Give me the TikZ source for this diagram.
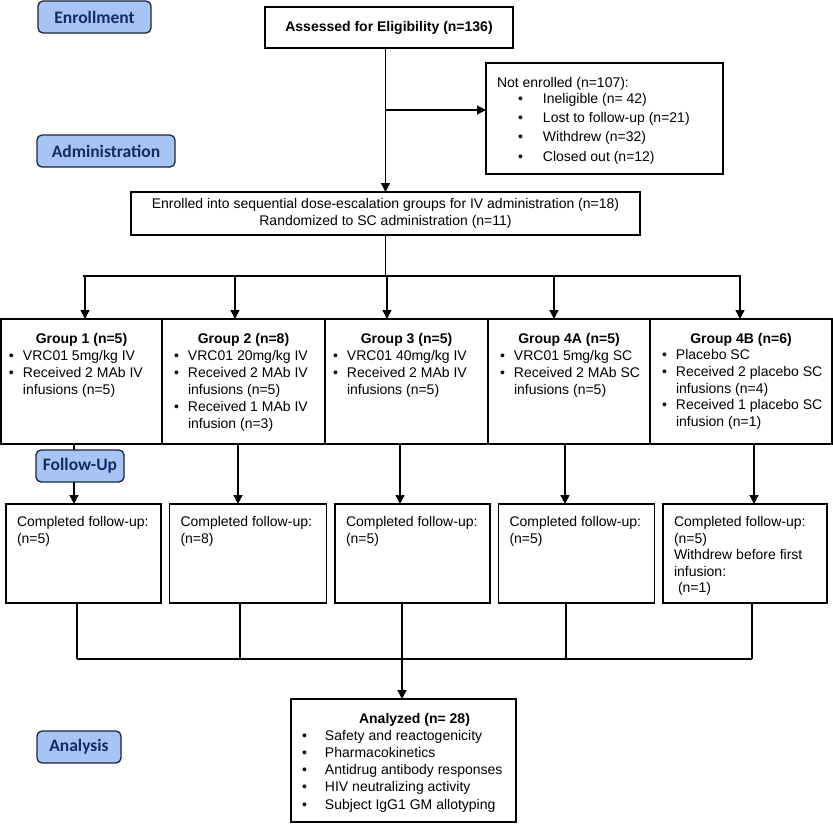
\documentclass[tikz,border=0pt]{standalone}
\usepackage{fontspec}
\setmainfont{Liberation Sans}
\newfontfamily\stagefont{Carlito}
\usetikzlibrary{positioning,arrows.meta}

\definecolor{stagefill}{RGB}{166,196,244}
\definecolor{stageline}{RGB}{28,36,60}
\definecolor{stageink}{RGB}{22,42,100}

% text block inside a box: width, height, top gap, left pad, content
\newcommand{\flowtext}[5]{\parbox[c][#2][t]{#1}{\leftskip=#4\relax\vspace*{#3}#5}}
\newcommand{\bul}{\makebox[14pt][l]{\textbullet}}
\newcommand{\hang}{\hspace*{14pt}}
\newcommand{\nbul}{\hspace*{21pt}\makebox[25pt][l]{\textbullet}}
\newcommand{\abul}{\makebox[23pt][l]{\textbullet}}

\begin{document}
\begin{tikzpicture}[x=1pt, y=-1pt, >={Triangle[length=9pt,width=9pt]}, line width=1.3pt,
  stage/.style={draw=stageline, fill=stagefill, rounded corners=5pt, text=stageink, minimum height=32pt, inner sep=0pt, font=\stagefont\bfseries\fontsize{17.5}{20}\selectfont},
  box/.style={draw, inner sep=0pt, outer sep=0pt, font=\fontsize{14}{17}\selectfont}]

  \useasboundingbox (0,0) rectangle (833,823);

  % Define nodes
  \node[box, minimum width=248pt, minimum height=41pt] (assess) at (389,27.5) {\textbf{Assessed for Eligibility (n=136)}};
  \node[box] (notenr) at (604.5,118.5) {\flowtext{237pt}{111pt}{14.8pt}{11pt}{\fontsize{14}{19.3}\selectfont
    Not enrolled (n=107):\\[-4pt]
    \nbul Ineligible (n= 42)\\
    \nbul Lost to follow-up (n=21)\\
    \nbul Withdrew (n=32)\\
    \nbul Closed out (n=12)}};
  \node[box, align=center, minimum width=509pt, minimum height=43pt] (enrolled) at (385.5,213.5) {Enrolled into sequential dose-escalation groups for IV administration (n=18)\\Randomized to SC administration (n=11)};

  % groups
  \node[box] (g1) at (81.5,381.5) {\flowtext{161pt}{125pt}{14pt}{8pt}{{\centering\textbf{Group 1 (n=5)}\par}
    \bul VRC01 5mg/kg IV\\
    \bul Received 2 MAb IV\\
    \hang infusions (n=5)}};
  \node[box] (g2) [right=0pt of g1] {\flowtext{163pt}{125pt}{14pt}{12pt}{{\centering\textbf{Group 2 (n=8)}\par}
    \bul VRC01 20mg/kg IV\\
    \bul Received 2 MAb IV\\
    \hang infusions (n=5)\\
    \bul Received 1 MAb IV\\
    \hang infusion (n=3)}};
  \node[box] (g3) [right=0pt of g2] {\flowtext{163pt}{125pt}{14pt}{8pt}{{\centering\textbf{Group 3 (n=5)}\par}
    \bul VRC01 40mg/kg IV\\
    \bul Received 2 MAb IV\\
    \hang infusions (n=5)}};
  \node[box] (g4a) [right=0pt of g3] {\flowtext{162pt}{125pt}{14pt}{12pt}{{\centering\textbf{Group 4A (n=5)}\par}
    \bul VRC01 5mg/kg SC\\
    \bul Received 2 MAb SC\\
    \hang infusions (n=5)}};
  \node[box] (g4b) [right=0pt of g4a] {\flowtext{182pt}{125pt}{14pt}{12pt}{\baselineskip=16.7pt{\centering\textbf{Group 4B (n=6)}\par}
    \bul Placebo SC\\
    \bul Received 2 placebo SC\\
    \hang infusions (n=4)\\
    \bul Received 1 placebo SC\\
    \hang infusion (n=1)}};

  % follow-up
  \node[box] (fu1) at (83.5,553.5) {\flowtext{155pt}{99pt}{12.8pt}{11pt}{\baselineskip=16.5pt Completed follow-up:\\(n=5)}};
  \node[box] (fu2) [right=8.5pt of fu1] {\flowtext{157pt}{99pt}{12.8pt}{11pt}{\baselineskip=16.5pt Completed follow-up:\\(n=8)}};
  \node[box] (fu3) [right=8.5pt of fu2] {\flowtext{155pt}{99pt}{12.8pt}{11pt}{\baselineskip=16.5pt Completed follow-up:\\(n=5)}};
  \node[box] (fu4) [right=8.5pt of fu3] {\flowtext{156pt}{99pt}{12.8pt}{11pt}{\baselineskip=16.5pt Completed follow-up:\\(n=5)}};
  \node[box] (fu5) [right=8.5pt of fu4] {\flowtext{164pt}{99pt}{12.8pt}{11pt}{\baselineskip=16.5pt Completed follow-up:\\(n=5)\\Withdrew before first\\infusion:\\\hspace*{4pt}(n=1)}};

  \node[box] (analyzed) at (403.5,760.5) {\flowtext{225pt}{123pt}{14pt}{11pt}{\baselineskip=17.2pt{\centering\hspace*{22pt}\textbf{Analyzed (n= 28)}\par}
    \abul Safety and reactogenicity\\
    \abul Pharmacokinetics\\
    \abul Antidrug antibody responses\\
    \abul HIV neutralizing activity\\
    \abul Subject IgG1 GM allotyping}};

  % connectors
  \coordinate (split) at (385.5,110);
  \coordinate (bus) at (385.5,276);
  \coordinate (join) at (402,659);
  \draw[->] (assess.south -| enrolled.north) -- (enrolled.north);
  \draw[->] (split) -- (split -| notenr.west);
  \draw (enrolled.south) -- (bus);
  \draw (83,276) -- (741,276);
  \foreach \g/\x in {g1/85, g2/235, g3/387, g4a/554, g4b/740}
    \draw[->] (\x,276) -- (\g.north -| \x,0);
  \foreach \g/\f/\x in {g1/fu1/74, g2/fu2/238, g3/fu3/400, g4a/fu4/565, g4b/fu5/754}
    \draw[->] (\g.south -| \x,0) -- (\f.north -| \x,0);
  \foreach \f/\x in {fu1/77, fu2/240, fu3/402, fu4/566, fu5/752}
    \draw (\f.south -| \x,0) -- (\x,659);
  \draw (77,659) -- (752,659);
  \draw[->] (join) -- (analyzed.north -| join);

  % stage labels
  \node[stage, minimum width=113pt] (enroll) at (94.5,17) {Enrollment};
  \node[stage, minimum width=138pt] (admin) at (106,151) {Administration};
  \node[stage, minimum width=88pt] (follow) at (80,466) {Follow-Up};
  \node[stage, minimum width=84pt] (analysis) at (79,747) {Analysis};
\end{tikzpicture}
\end{document}
